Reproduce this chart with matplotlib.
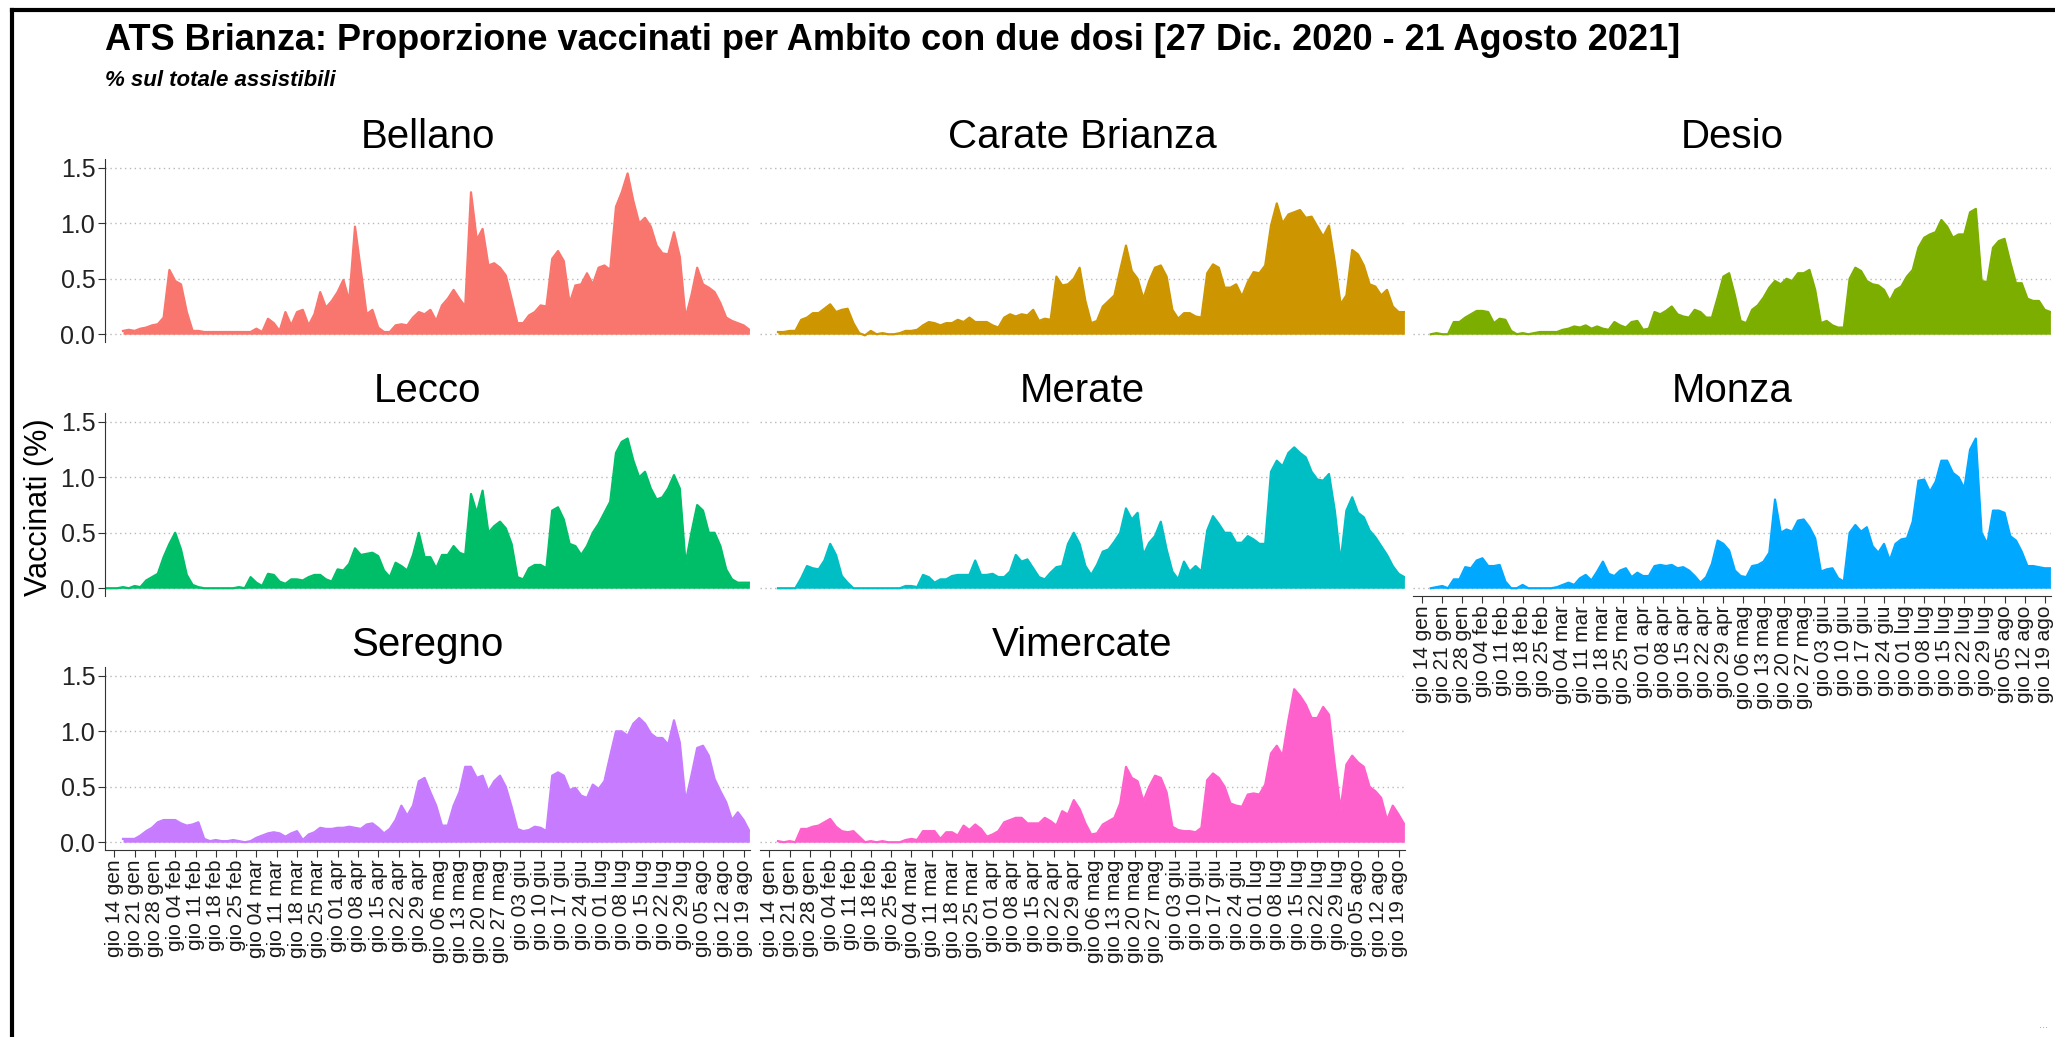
"""
ATS Brianza - second-dose vaccinations per Ambito, small multiples.
Values are % of assistibili, one reading every 2 days (11 Jan - 21 Aug 2021).
"""

import numpy as np
import pandas as pd
import matplotlib
matplotlib.use("Agg")
import matplotlib.pyplot as plt
import matplotlib.dates as mdates
from matplotlib.lines import Line2D

nan = np.nan

# one value every 2 days
dates = pd.date_range("2021-01-11", "2021-08-21", freq="2D")

ambiti = ["Bellano", "Carate Brianza", "Desio", "Lecco", "Merate",
          "Monza", "Seregno", "Vimercate"]

colors = ["#F8766D", "#CD9600", "#7CAE00", "#00BE67", "#00BFC4",
          "#00A9FF", "#C77CFF", "#FF61CC"]

bellano = [
    nan, nan, nan, 0.03, 0.04, 0.03, 0.05, 0.06, 0.08, 0.09,
    0.15, 0.58, 0.48, 0.45, 0.20, 0.03, 0.03, 0.02, 0.02, 0.02,
    0.02, 0.02, 0.02, 0.02, 0.02, 0.02, 0.05, 0.02, 0.14, 0.10,
    0.03, 0.20, 0.08, 0.20, 0.22, 0.08, 0.18, 0.38, 0.24, 0.30,
    0.38, 0.49, 0.30, 0.97, 0.58, 0.18, 0.22, 0.06, 0.02, 0.02,
    0.08, 0.09, 0.08, 0.15, 0.20, 0.18, 0.22, 0.12, 0.26, 0.32,
    0.40, 0.32, 0.25, 1.28, 0.85, 0.95, 0.62, 0.64, 0.60, 0.53,
    0.32, 0.10, 0.10, 0.17, 0.20, 0.26, 0.25, 0.68, 0.75, 0.66,
    0.28, 0.44, 0.45, 0.55, 0.45, 0.60, 0.62, 0.58, 1.15, 1.28,
    1.45, 1.20, 1.00, 1.05, 0.97, 0.80, 0.73, 0.72, 0.92, 0.70,
    0.15, 0.35, 0.60, 0.45, 0.42, 0.38, 0.28, 0.15, 0.12, 0.10,
    0.08, 0.04]

carate = [
    nan, nan, nan, 0.02, 0.02, 0.03, 0.03, 0.13, 0.15, 0.19,
    0.19, 0.23, 0.27, 0.20, 0.22, 0.23, 0.10, 0.01, -0.01, 0.03,
    0.00, 0.01, 0.00, 0.00, 0.01, 0.03, 0.03, 0.04, 0.08, 0.11,
    0.10, 0.08, 0.10, 0.10, 0.13, 0.11, 0.15, 0.11, 0.11, 0.11,
    0.08, 0.06, 0.15, 0.18, 0.16, 0.18, 0.17, 0.22, 0.12, 0.14,
    0.13, 0.52, 0.44, 0.45, 0.50, 0.60, 0.30, 0.10, 0.12, 0.25,
    0.30, 0.35, 0.58, 0.80, 0.57, 0.50, 0.32, 0.48, 0.60, 0.62,
    0.52, 0.22, 0.14, 0.19, 0.19, 0.16, 0.15, 0.55, 0.63, 0.60,
    0.42, 0.42, 0.45, 0.34, 0.47, 0.56, 0.55, 0.62, 0.98, 1.18,
    1.00, 1.08, 1.10, 1.12, 1.05, 1.06, 0.97, 0.88, 0.98, 0.65,
    0.27, 0.35, 0.76, 0.72, 0.62, 0.45, 0.43, 0.35, 0.40, 0.25,
    0.20, 0.20]

desio = [
    nan, nan, nan, 0.00, 0.01, 0.00, 0.00, 0.11, 0.11, 0.15,
    0.18, 0.21, 0.21, 0.20, 0.10, 0.14, 0.13, 0.03, 0.00, 0.01,
    0.00, 0.01, 0.02, 0.02, 0.02, 0.02, 0.04, 0.05, 0.07, 0.06,
    0.08, 0.05, 0.07, 0.05, 0.04, 0.11, 0.08, 0.06, 0.11, 0.12,
    0.04, 0.05, 0.20, 0.18, 0.21, 0.25, 0.18, 0.16, 0.15, 0.22,
    0.20, 0.15, 0.15, 0.33, 0.52, 0.55, 0.35, 0.12, 0.10, 0.22,
    0.26, 0.33, 0.42, 0.48, 0.45, 0.50, 0.48, 0.55, 0.55, 0.58,
    0.40, 0.10, 0.12, 0.08, 0.06, 0.06, 0.50, 0.60, 0.57, 0.48,
    0.45, 0.44, 0.40, 0.30, 0.40, 0.43, 0.52, 0.58, 0.78, 0.87,
    0.90, 0.92, 1.03, 0.97, 0.87, 0.90, 0.90, 1.10, 1.13, 0.48,
    0.47, 0.78, 0.84, 0.86, 0.65, 0.46, 0.46, 0.32, 0.30, 0.30,
    0.22, 0.20]

lecco = [
    0.00, 0.00, 0.00, 0.01, 0.00, 0.02, 0.01, 0.07, 0.10, 0.13,
    0.28, 0.40, 0.50, 0.35, 0.12, 0.03, 0.01, 0.00, 0.00, 0.00,
    0.00, 0.00, 0.00, 0.01, 0.00, 0.10, 0.05, 0.02, 0.13, 0.12,
    0.06, 0.04, 0.08, 0.08, 0.07, 0.10, 0.12, 0.12, 0.08, 0.06,
    0.17, 0.16, 0.22, 0.36, 0.30, 0.31, 0.32, 0.29, 0.16, 0.10,
    0.23, 0.20, 0.16, 0.30, 0.50, 0.28, 0.28, 0.18, 0.30, 0.30,
    0.38, 0.32, 0.30, 0.85, 0.68, 0.88, 0.50, 0.56, 0.60, 0.54,
    0.40, 0.10, 0.08, 0.18, 0.21, 0.21, 0.18, 0.70, 0.73, 0.62,
    0.40, 0.38, 0.30, 0.38, 0.50, 0.58, 0.68, 0.78, 1.22, 1.32,
    1.35, 1.15, 1.00, 1.05, 0.90, 0.80, 0.82, 0.90, 1.02, 0.90,
    0.22, 0.50, 0.75, 0.70, 0.50, 0.50, 0.38, 0.17, 0.08, 0.05,
    0.05, 0.05]

merate = [
    nan, nan, nan, 0.00, 0.00, 0.00, 0.00, 0.09, 0.20, 0.18,
    0.17, 0.25, 0.40, 0.30, 0.11, 0.05, 0.00, 0.00, 0.00, 0.00,
    0.00, 0.00, 0.00, 0.00, 0.00, 0.02, 0.02, 0.01, 0.12, 0.10,
    0.05, 0.08, 0.08, 0.11, 0.12, 0.12, 0.12, 0.25, 0.12, 0.12,
    0.13, 0.10, 0.10, 0.15, 0.30, 0.24, 0.26, 0.18, 0.10, 0.08,
    0.14, 0.19, 0.20, 0.40, 0.50, 0.40, 0.20, 0.12, 0.21, 0.33,
    0.35, 0.42, 0.50, 0.72, 0.62, 0.68, 0.30, 0.41, 0.47, 0.60,
    0.35, 0.15, 0.08, 0.24, 0.15, 0.20, 0.15, 0.52, 0.65, 0.58,
    0.50, 0.50, 0.41, 0.41, 0.47, 0.44, 0.40, 0.40, 1.05, 1.15,
    1.10, 1.22, 1.27, 1.22, 1.18, 1.05, 0.98, 0.97, 1.03, 0.70,
    0.24, 0.70, 0.82, 0.68, 0.64, 0.52, 0.46, 0.38, 0.30, 0.20,
    0.13, 0.10]

monza = [
    nan, nan, nan, 0.00, 0.01, 0.02, 0.00, 0.08, 0.08, 0.19,
    0.18, 0.25, 0.27, 0.20, 0.20, 0.21, 0.06, 0.00, 0.00, 0.03,
    0.00, 0.00, 0.00, 0.00, 0.00, 0.01, 0.03, 0.05, 0.03, 0.09,
    0.12, 0.07, 0.15, 0.24, 0.13, 0.11, 0.16, 0.18, 0.10, 0.14,
    0.11, 0.11, 0.20, 0.21, 0.20, 0.21, 0.18, 0.19, 0.16, 0.11,
    0.05, 0.10, 0.22, 0.43, 0.40, 0.34, 0.16, 0.11, 0.10, 0.20,
    0.21, 0.24, 0.32, 0.80, 0.50, 0.53, 0.51, 0.61, 0.62, 0.55,
    0.45, 0.15, 0.17, 0.18, 0.09, 0.06, 0.50, 0.57, 0.51, 0.55,
    0.38, 0.32, 0.40, 0.25, 0.40, 0.44, 0.45, 0.60, 0.97, 0.98,
    0.87, 0.96, 1.15, 1.15, 1.04, 1.00, 0.90, 1.25, 1.35, 0.50,
    0.40, 0.70, 0.70, 0.68, 0.47, 0.43, 0.33, 0.20, 0.20, 0.19,
    0.18, 0.18]

seregno = [
    nan, nan, nan, 0.03, 0.03, 0.03, 0.06, 0.10, 0.13, 0.18,
    0.20, 0.20, 0.20, 0.17, 0.15, 0.16, 0.18, 0.03, 0.01, 0.02,
    0.01, 0.01, 0.02, 0.01, 0.00, 0.01, 0.04, 0.06, 0.08, 0.09,
    0.08, 0.05, 0.08, 0.10, 0.02, 0.07, 0.09, 0.13, 0.12, 0.12,
    0.13, 0.13, 0.14, 0.13, 0.12, 0.16, 0.17, 0.13, 0.08, 0.12,
    0.20, 0.33, 0.24, 0.33, 0.55, 0.58, 0.45, 0.33, 0.15, 0.15,
    0.33, 0.45, 0.68, 0.68, 0.58, 0.60, 0.46, 0.55, 0.60, 0.50,
    0.32, 0.12, 0.10, 0.11, 0.14, 0.13, 0.10, 0.60, 0.63, 0.60,
    0.47, 0.49, 0.42, 0.40, 0.52, 0.48, 0.55, 0.78, 1.00, 1.00,
    0.96, 1.07, 1.12, 1.07, 0.98, 0.94, 0.94, 0.88, 1.10, 0.90,
    0.37, 0.60, 0.85, 0.87, 0.78, 0.57, 0.46, 0.36, 0.20, 0.27,
    0.20, 0.10]

vimercate = [
    nan, nan, nan, 0.01, 0.00, 0.01, 0.00, 0.12, 0.12, 0.14,
    0.15, 0.18, 0.21, 0.14, 0.10, 0.09, 0.10, 0.05, 0.00, 0.01,
    0.00, 0.01, 0.00, 0.00, 0.00, 0.02, 0.03, 0.02, 0.10, 0.10,
    0.10, 0.03, 0.09, 0.09, 0.06, 0.15, 0.11, 0.16, 0.12, 0.05,
    0.07, 0.10, 0.18, 0.20, 0.22, 0.22, 0.17, 0.17, 0.17, 0.22,
    0.19, 0.15, 0.28, 0.25, 0.38, 0.30, 0.17, 0.07, 0.08, 0.16,
    0.19, 0.22, 0.35, 0.68, 0.58, 0.55, 0.37, 0.50, 0.60, 0.58,
    0.45, 0.14, 0.11, 0.10, 0.10, 0.09, 0.13, 0.56, 0.62, 0.58,
    0.50, 0.35, 0.33, 0.32, 0.43, 0.44, 0.43, 0.52, 0.80, 0.87,
    0.78, 1.10, 1.38, 1.32, 1.24, 1.12, 1.12, 1.22, 1.15, 0.70,
    0.30, 0.70, 0.78, 0.72, 0.68, 0.50, 0.46, 0.40, 0.20, 0.33,
    0.25, 0.16]

series = [bellano, carate, desio, lecco, merate, monza, seregno, vimercate]

# weekly ticks (thursdays)
tick_dates = pd.date_range("2021-01-14", "2021-08-19", freq="7D")
tick_labels = [
    "gio 14 gen", "gio 21 gen", "gio 28 gen", "gio 04 feb", "gio 11 feb",
    "gio 18 feb", "gio 25 feb", "gio 04 mar", "gio 11 mar", "gio 18 mar",
    "gio 25 mar", "gio 01 apr", "gio 08 apr", "gio 15 apr", "gio 22 apr",
    "gio 29 apr", "gio 06 mag", "gio 13 mag", "gio 20 mag", "gio 27 mag",
    "gio 03 giu", "gio 10 giu", "gio 17 giu", "gio 24 giu", "gio 01 lug",
    "gio 08 lug", "gio 15 lug", "gio 22 lug", "gio 29 lug", "gio 05 ago",
    "gio 12 ago", "gio 19 ago"]

W, H = 2055, 1037
plt.rcParams["font.family"] = ["Liberation Sans", "DejaVu Sans"]


def draw():
    fig = plt.figure(figsize=(W / 100, H / 100), dpi=100)

    # panel geometry in pixels (third column runs into the right edge)
    col_left = [105, 760, 1413]
    col_width = [645, 645, 638]
    row_top = [159, 413, 667]
    ph = 183

    x0 = mdates.date2num(pd.Timestamp("2021-01-10 19:00"))
    x1 = mdates.date2num(pd.Timestamp("2021-08-21 05:00"))

    labelled = {"Monza", "Seregno", "Vimercate"}

    for k, (name, vals, col) in enumerate(zip(ambiti, series, colors)):
        r, c = divmod(k, 3)
        ax = fig.add_axes([col_left[c] / W, 1 - (row_top[r] + ph) / H,
                           col_width[c] / W, ph / H])
        v = np.array(vals, dtype=float)
        ax.fill_between(dates, 0, v, color=col, lw=0)
        ax.plot(dates, v, color=col, lw=1.6)

        ax.set_xlim(x0, x1)
        ax.set_ylim(-0.07, 1.58)
        ax.set_yticks([0, 0.5, 1.0, 1.5])
        ax.yaxis.grid(True, linestyle=(0, (1, 2.5)), color="#b8b8b8", lw=1.0)
        ax.set_axisbelow(True)
        for s in ax.spines.values():
            s.set_visible(False)

        if c == 0:
            ax.spines["left"].set_visible(True)
            ax.spines["left"].set_color("#333333")
            ax.yaxis.set_major_formatter(plt.FormatStrFormatter("%.1f"))
            ax.tick_params(axis="y", labelsize=18, length=5, color="#333333",
                           labelcolor="#222222", pad=2)
        else:
            ax.tick_params(axis="y", length=0, labelleft=False)

        ax.set_xticks(tick_dates)
        if name in labelled:
            ax.spines["bottom"].set_visible(True)
            ax.spines["bottom"].set_color("#333333")
            ax.set_xticklabels(tick_labels, rotation=90, ha="center", va="top")
            ax.tick_params(axis="x", labelsize=15, length=5, color="#333333",
                           labelcolor="#1a1a1a", pad=2)
        else:
            ax.tick_params(axis="x", length=0, labelbottom=False)

        ax.text(0.5, 1.12, name, transform=ax.transAxes, ha="center",
                va="center", fontsize=29, color="black")

    fig.text(105 / W, 1 - 41 / H,
             "ATS Brianza: Proporzione vaccinati per Ambito con due dosi "
             "[27 Dic. 2020 - 21 Agosto 2021]",
             fontsize=26, fontweight="bold", va="center", ha="left")
    fig.text(105 / W, 1 - 81 / H, "% sul totale assistibili", fontsize=16,
             fontweight="bold", fontstyle="italic", va="center", ha="left")
    fig.text(39 / W, 1 - 507 / H, "Vaccinati (%)", rotation=90, fontsize=22,
             ha="center", va="center")

    # black frame on top and left
    fig.add_artist(Line2D([12 / W, 12 / W], [0, 1 - 10 / H], color="black",
                          lw=3, transform=fig.transFigure))
    fig.add_artist(Line2D([12 / W, 1], [1 - 10 / H, 1 - 10 / H], color="black",
                          lw=3, transform=fig.transFigure))
    fig.text(2044 / W, 1 - 1025 / H, "...", fontsize=8, color="#7a9cc0",
             ha="center", va="center")

    fig.savefig("out.png", dpi=100)


if __name__ == "__main__":
    draw()
